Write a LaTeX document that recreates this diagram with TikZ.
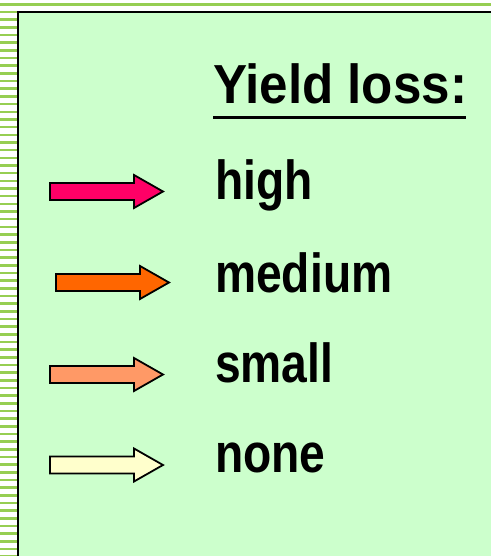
\documentclass[tikz,border=0pt]{standalone}
\usepackage{fontspec}
\setmainfont{Liberation Sans}[FakeStretch=0.84]
\newfontfamily\titlefont{Liberation Sans}[FakeStretch=0.93]
\definecolor{stripe}{RGB}{150,206,82}
\definecolor{panel}{RGB}{204,255,204}
\definecolor{highc}{RGB}{255,0,102}
\definecolor{medc}{RGB}{255,102,0}
\definecolor{smallc}{RGB}{255,153,102}
\definecolor{nonec}{RGB}{255,255,204}
\tikzset{
  lbl/.style={anchor=base west, inner sep=0pt, font=\fontsize{55}{60}\selectfont\bfseries},
  legarrow/.style={draw=black, line width=1.8pt, line join=miter}
}
\newcommand\legendarrow[3]{%
  \draw[legarrow, fill=#3] (#1,#2) ++(0,-8.5) -- ++(84,0) -- ++(0,-8) -- ++(29,16.5)
    -- ++(-29,16.5) -- ++(0,-8) -- ++(-84,0) -- cycle;}
\begin{document}
\begin{tikzpicture}[x=1pt,y=-1pt]
\useasboundingbox (0,0) rectangle (491,556);
\fill[white] (0,0) rectangle (491,556);
\fill[stripe] (0,3.2) rectangle (491,5.9);
\foreach \i in {0,...,71} \fill[stripe] (0,{10.8+7.67*\i}) rectangle (17,{13.4+7.67*\i});
\fill[panel] (17.7,11.7) rectangle (491,556);
\draw[line width=2pt] (17.7,556) -- (17.7,11.7) -- (491,11.7);
% title
\node[lbl, font=\fontsize{55}{60}\selectfont\titlefont\bfseries] (title) at (213,104) {Yield loss:};
\draw[line width=3pt] (213,117.5) -- (466,117.5);
% legend entries
\legendarrow{50}{191.5}{highc}
\node[lbl] (high) at (215,199) {high};
\legendarrow{56}{282.5}{medc}
\node[lbl] (medium) at (215,292) {medium};
\legendarrow{50}{374.5}{smallc}
\node[lbl] (small) at (215,382) {small};
\legendarrow{50}{465}{nonec}
\node[lbl] (none) at (215,472) {none};
\end{tikzpicture}
\end{document}
